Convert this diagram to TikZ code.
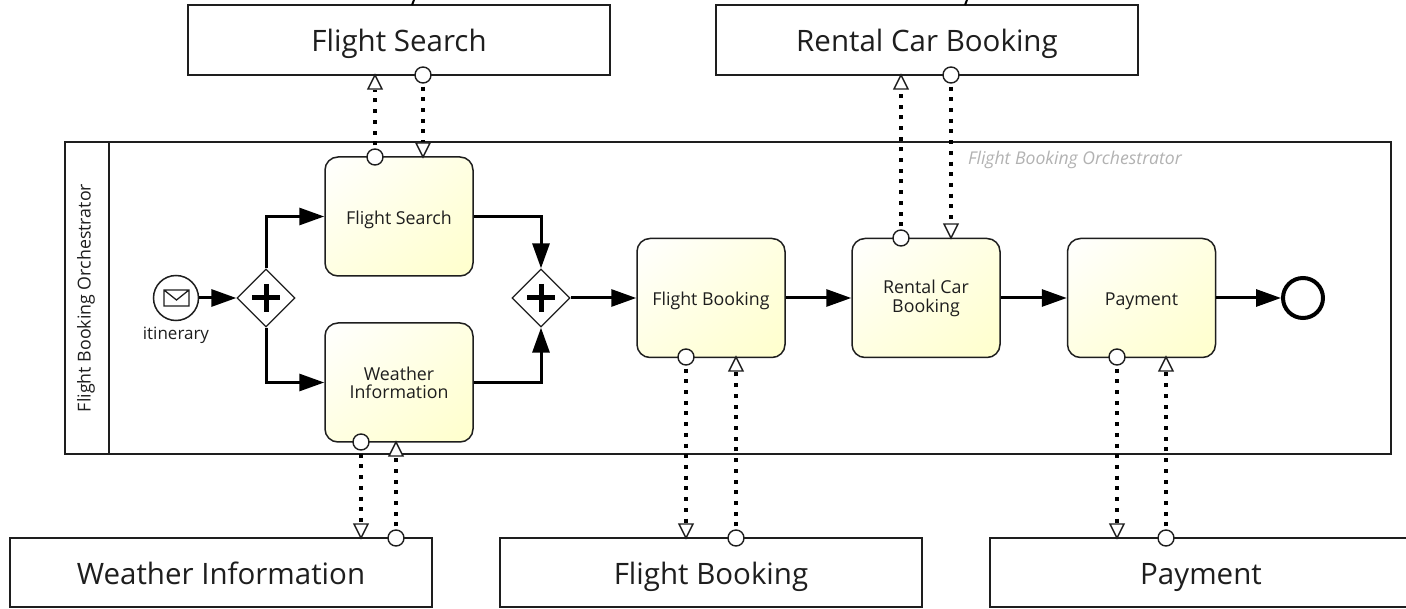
\documentclass[tikz,border=0pt]{standalone}
\usepackage{fontspec}
\setmainfont{Open Sans}
\usetikzlibrary{arrows.meta,shapes.geometric,positioning,shadings}
\definecolor{ink}{HTML}{1E1E1E}
\definecolor{paleA}{HTML}{FFFFE2}
\definecolor{paleB}{HTML}{FFFFCC}
\tikzset{
  x=1pt,y=-1pt,
  outer box/.style={draw=ink,line width=1.7pt,fill=white,minimum width=422pt,minimum height=70pt,inner sep=0pt,font=\fontsize{29.5}{32}\selectfont,text=ink,text height=24pt,text depth=0pt},
  task/.style={draw=ink,line width=1.5pt,rounded corners=13pt,minimum width=148pt,minimum height=119pt,inner sep=0pt,align=center,font=\fontsize{17.8}{18}\selectfont,text=ink,path picture={\shade[upper left=white,upper right=paleA,lower left=paleA,lower right=paleB] (path picture bounding box.north west) rectangle (path picture bounding box.south east);}},
  one line/.style={text height=16pt,text depth=0pt},
  gateway/.style={diamond,aspect=1,draw=ink,line width=1.3pt,fill=white,minimum size=58pt,inner sep=0pt},
  port/.style={circle,draw=ink,line width=1.4pt,fill=white,minimum size=16pt,inner sep=0pt},
  seq/.style={draw=black,line width=3pt,-{Triangle[length=25pt,width=17pt]}},
  msg/.style={draw=black,line width=3.1pt,dash pattern=on 4pt off 6.7pt},
  tip/.style={draw=ink,line width=1.4pt,fill=white},
}
\newcommand{\opentip}[2]{% point, sign of direction (+1 tip points down)
  \draw[tip] (#1) -- ++(-7pt,14pt*#2) -- ++(14pt,0) -- cycle;}
\begin{document}
\begin{tikzpicture}
\useasboundingbox (0,0) rectangle (1406,609);
\fill[white] (0,0) rectangle (1406,609);
% pool
\node[draw=ink,line width=1.7pt,minimum width=1326pt,minimum height=312pt,inner sep=0pt] (pool) at (728,298) {};
\node[draw=ink,line width=1.7pt,minimum width=44pt,minimum height=312pt,inner sep=0pt] (lane) at (87,298) {};
\node[rotate=90,font=\fontsize{17.8}{19}\selectfont,text=ink] (poolname) at (86,298) {Flight Booking Orchestrator};
\node[font=\itshape\fontsize{17.6}{19}\selectfont,text=black!30] (watermark) at (1075,159.5) {Flight Booking Orchestrator};
% outer participants
\node[outer box] (pfs) at (399,40) {Flight Search};
\node[outer box] (prc) at (927,40) {Rental Car Booking};
\node[outer box,minimum height=69pt] (pwi) at (221,572.5) {Weather Information};
\node[outer box,minimum height=69pt] (pfb) at (711,572.5) {Flight Booking};
\node[outer box,minimum height=69pt] (ppy) at (1201,572.5) {Payment};
\draw[black,line width=2pt] (412,5) -- (414,0);
\draw[black,line width=2pt] (965,5) -- (967,0);
% tasks
\node[task,one line] (tfs) at (399,216.5) {Flight Search};
\node[task] (twi) at (399,382.5) {\rule{0pt}{15pt}Weather\\Information};
\node[task,one line] (tfb) at (711,298) {Flight Booking};
\node[task] (trc) at (926,298) {\rule{0pt}{15pt}Rental Car\\[1pt]Booking};
\node[task,one line] (tpy) at (1141.5,298) {Payment};
% events
\node[circle,draw=ink,line width=1.5pt,fill=white,minimum size=45pt,inner sep=0pt] (start) at (176,298) {};
\node[font=\fontsize{17}{19}\selectfont,text=ink] (startlabel) at (176,335) {itinerary};
\draw[draw=ink,line width=1.3pt,fill=white] (164,290) rectangle (189,306) (164,290) -- (176.5,300) -- (189,290);
\node[circle,draw=black,line width=4pt,fill=white,minimum size=40pt,inner sep=0pt] (end) at (1303,298) {};
% gateways
\node[gateway] (g1) at (266,298) {};
\node[gateway] (g2) at (541,298) {};
\draw[black,line width=5pt] (252,298) -- (280,298) (266,284) -- (266,312);
\draw[black,line width=5pt] (527,298) -- (555,298) (541,284) -- (541,312);
% sequence flows
\draw[seq] (start) -- (g1);
\draw[seq] (g1.north) |- (tfs.west);
\draw[seq] (g1.south) |- (twi.west);
\draw[seq] (tfs.east) -| (g2.north);
\draw[seq] (twi.east) -| (g2.south);
\draw[seq] (g2) -- (tfb);
\draw[seq] (tfb) -- (trc);
\draw[seq] (trc) -- (tpy);
\draw[seq] (tpy) -- (end);
% message flows
\node[port] (a1) at (375,157) {};
\node[port] (a2) at (423,75) {};
\node[port] (b1) at (901,238) {};
\node[port] (b2) at (951,75) {};
\node[port] (c1) at (361,442) {};
\node[port] (c2) at (396,538) {};
\node[port] (d1) at (686,357) {};
\node[port] (d2) at (736,538) {};
\node[port] (e1) at (1117,357) {};
\node[port] (e2) at (1166,538) {};
\coordinate (a1t) at (375,75);
\coordinate (a2t) at (423,157);
\coordinate (b1t) at (901,75);
\coordinate (b2t) at (951,238);
\coordinate (c1t) at (361,538);
\coordinate (c2t) at (396,442);
\coordinate (d1t) at (686,538);
\coordinate (d2t) at (736,357);
\coordinate (e1t) at (1117,538);
\coordinate (e2t) at (1166,357);
\draw[msg] ([yshift=3pt]a1.north) -- ([yshift=-15pt]a1t);
\draw[msg] ([yshift=-3pt]a2.south) -- ([yshift=15pt]a2t);
\draw[msg] ([yshift=3pt]b1.north) -- ([yshift=-15pt]b1t);
\draw[msg] ([yshift=-3pt]b2.south) -- ([yshift=15pt]b2t);
\draw[msg] ([yshift=-3pt]c1.south) -- ([yshift=15pt]c1t);
\draw[msg] ([yshift=3pt]c2.north) -- ([yshift=-15pt]c2t);
\draw[msg] ([yshift=-3pt]d1.south) -- ([yshift=15pt]d1t);
\draw[msg] ([yshift=3pt]d2.north) -- ([yshift=-15pt]d2t);
\draw[msg] ([yshift=-3pt]e1.south) -- ([yshift=15pt]e1t);
\draw[msg] ([yshift=3pt]e2.north) -- ([yshift=-15pt]e2t);
\opentip{a1t}{-1}
\opentip{a2t}{1}
\opentip{b1t}{-1}
\opentip{b2t}{1}
\opentip{c1t}{1}
\opentip{c2t}{-1}
\opentip{d1t}{1}
\opentip{d2t}{-1}
\opentip{e1t}{1}
\opentip{e2t}{-1}
\end{tikzpicture}
\end{document}
